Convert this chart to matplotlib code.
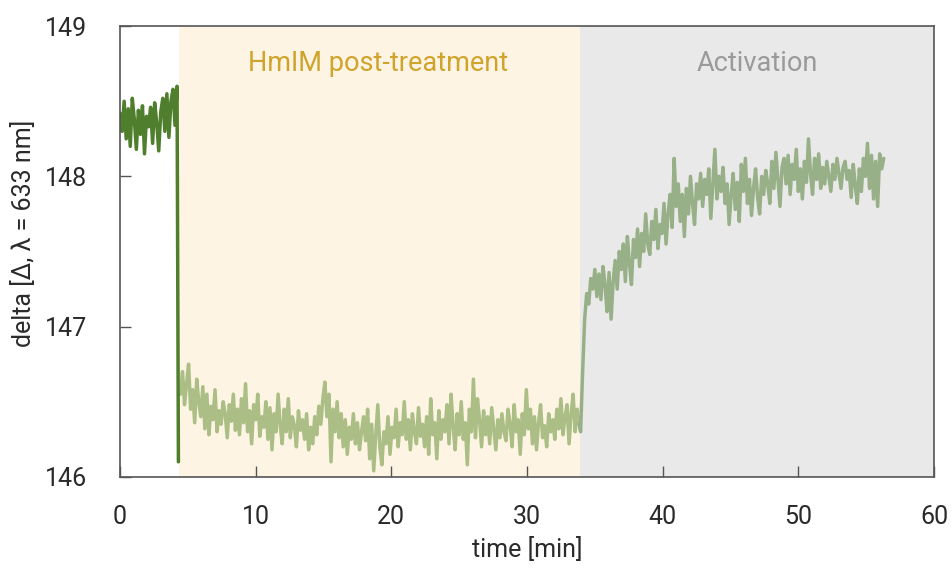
import numpy as np
import matplotlib
matplotlib.use("Agg")
import matplotlib.pyplot as plt

plt.rcParams["font.family"] = ["Roboto", "DejaVu Sans"]

DARK_GREEN = "#4F7F2C"
LIGHT_GREEN = "#ABBE85"
SAGE = "#98B087"
CREAM = "#FDF4E3"
GREY_BG = "#E9E9E9"
GOLD = "#D0A32A"
GREY_TEXT = "#9A9A9A"
FRAME = "#555555"
INK = "#2A2A2A"

STEP = 0.15  # sampling interval [min]

# baseline before treatment
T0_BASE = 0.0
BASE = [148.42, 148.30, 148.50, 148.25, 148.45, 148.20, 148.52, 148.38, 148.18, 148.44,
        148.28, 148.47, 148.15, 148.40, 148.33, 148.46, 148.22, 148.49, 148.36, 148.17,
        148.43, 148.52, 148.30, 148.55, 148.26, 148.50, 148.58, 148.34, 148.60]
T_DROP = 4.30
DROP = 146.10

# HmIM post-treatment
T0_TREAT = 4.45
TREAT = [146.55, 146.70, 146.48, 146.62, 146.75, 146.45, 146.58, 146.36, 146.65, 146.50,
         146.40, 146.60, 146.32, 146.55, 146.28, 146.47, 146.38, 146.58, 146.30, 146.44,
         146.35, 146.50, 146.42, 146.26, 146.48, 146.37, 146.55, 146.31, 146.45, 146.28,
         146.52, 146.36, 146.62, 146.30, 146.44, 146.22, 146.48, 146.38, 146.55, 146.27,
         146.40, 146.33, 146.50, 146.25, 146.46, 146.18, 146.42, 146.30, 146.55, 146.35,
         146.22, 146.45, 146.30, 146.52, 146.26, 146.40, 146.34, 146.20, 146.44, 146.31,
         146.38, 146.25, 146.42, 146.18, 146.33, 146.22, 146.40, 146.28, 146.47, 146.35,
         146.52, 146.63, 146.40, 146.55, 146.10, 146.45, 146.30, 146.50, 146.26, 146.42,
         146.20, 146.38, 146.15, 146.33, 146.25, 146.42, 146.22, 146.36, 146.18, 146.30,
         146.40, 146.24, 146.45, 146.12, 146.35, 146.04, 146.28, 146.48, 146.20, 146.08,
         146.30, 146.22, 146.40, 146.15, 146.33, 146.26, 146.45, 146.20, 146.36, 146.28,
         146.50, 146.25, 146.38, 146.18, 146.42, 146.30, 146.22, 146.46, 146.27, 146.35,
         146.20, 146.40, 146.15, 146.52, 146.28, 146.36, 146.12, 146.44, 146.25, 146.38,
         146.30, 146.48, 146.22, 146.55, 146.34, 146.18, 146.42, 146.28, 146.50, 146.25,
         146.36, 146.08, 146.45, 146.30, 146.65, 146.26, 146.52, 146.38, 146.20, 146.44,
         146.28, 146.40, 146.22, 146.46, 146.32, 146.18, 146.38, 146.26, 146.42, 146.30,
         146.24, 146.45, 146.35, 146.20, 146.48, 146.30, 146.38, 146.15, 146.42, 146.28,
         146.58, 146.32, 146.45, 146.22, 146.40, 146.18, 146.36, 146.48, 146.26, 146.34,
         146.20, 146.42, 146.30, 146.38, 146.25, 146.45, 146.32, 146.52, 146.28, 146.40,
         146.48, 146.22, 146.42, 146.55, 146.30, 146.45, 146.35]

# activation
T0_ACT = 33.95
ACT = [146.30, 146.70, 147.05, 147.22, 147.15, 147.32, 147.25, 147.38, 147.20, 147.35,
       147.18, 147.40, 147.28, 147.10, 147.36, 147.05, 147.30, 147.44, 147.25, 147.50,
       147.38, 147.55, 147.30, 147.60, 147.42, 147.28, 147.58, 147.46, 147.65, 147.40,
       147.62, 147.50, 147.75, 147.55, 147.48, 147.70, 147.58, 147.78, 147.52, 147.68,
       147.62, 147.82, 147.55, 147.75, 147.88, 147.66, 148.12, 147.80, 147.95, 147.70,
       147.88, 147.60, 147.92, 147.75, 148.00, 147.82, 147.68, 147.95, 147.85, 148.02,
       147.80, 147.98, 147.88, 148.05, 147.72, 147.95, 148.18, 147.85, 148.00, 147.90,
       148.06, 147.82, 147.95, 147.68, 147.88, 148.02, 147.78, 147.96, 147.70, 148.08,
       147.90, 148.12, 147.82, 147.98, 147.74, 147.92, 148.05, 147.86, 147.75, 148.00,
       147.88, 148.04, 147.95, 147.82, 148.10, 147.92, 148.16, 147.98, 147.80, 148.06,
       148.12, 147.95, 148.14, 147.88, 148.08, 147.98, 148.18, 147.90, 148.05, 147.85,
       148.10, 147.96, 148.25, 148.02, 147.88, 148.12, 147.98, 148.15, 147.92, 148.06,
       147.95, 148.10, 148.00, 147.90, 148.08, 147.98, 148.12, 148.02, 147.92, 148.06,
       148.10, 147.98, 148.04, 147.86, 148.08, 147.94, 147.82, 148.05, 147.90, 148.12,
       148.00, 148.22, 147.92, 148.14, 147.85, 148.10, 147.80, 148.15, 148.05, 148.12]

TREAT_START, ACT_START = 4.35, 33.9
X_MAX = 60
Y_LIM = (146, 149)


def times(t0, values):
    return t0 + STEP * np.arange(len(values))


fig = plt.figure(figsize=(9.53, 5.69), dpi=100)
ax = fig.add_axes([0.126, 0.162, 0.854, 0.792])

ax.axvspan(TREAT_START, ACT_START, color=CREAM, lw=0, zorder=0)
ax.axvspan(ACT_START, X_MAX, color=GREY_BG, lw=0, zorder=0)

t_base = np.append(times(T0_BASE, BASE), T_DROP)
y_base = np.append(BASE, DROP)
t_treat = times(T0_TREAT, TREAT)
t_act = np.insert(times(T0_ACT, ACT), 0, t_treat[-1])
y_act = np.insert(ACT, 0, TREAT[-1])

kw = dict(lw=2.5, solid_joinstyle="round", solid_capstyle="round", zorder=3)
ax.plot(t_treat, TREAT, color=LIGHT_GREEN, **kw)
ax.plot(t_act, y_act, color=SAGE, **kw)
ax.plot(t_base, y_base, color=DARK_GREEN, **kw)

ax.text(19.0, 148.75, "HmIM post-treatment", color=GOLD, fontsize=19.5,
        ha="center", va="center")
ax.text(47.0, 148.75, "Activation", color=GREY_TEXT, fontsize=19.5,
        ha="center", va="center")

ax.set_xlim(0, X_MAX)
ax.set_ylim(*Y_LIM)
ax.set_xticks(range(0, 61, 10))
ax.set_yticks([146, 147, 148, 149])
ax.tick_params(direction="in", length=8, width=1, color=FRAME,
               labelsize=18, labelcolor=INK)
ax.tick_params(axis="y", pad=24)
ax.tick_params(axis="x", pad=20)
for s in ax.spines.values():
    s.set_color(FRAME)
    s.set_linewidth(1.2)
    s.set_zorder(4)

ax.set_xlabel("time [min]", fontsize=18, color=INK, labelpad=6)
ax.set_ylabel("delta [Δ, λ = 633 nm]", fontsize=18, color=INK, labelpad=6)
ax.yaxis.label.set_y(0.54)

fig.savefig("out.png", dpi=100)
